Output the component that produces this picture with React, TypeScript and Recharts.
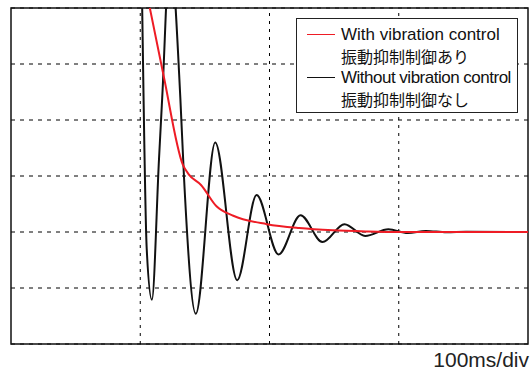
import React from "react";
import { CartesianGrid, Legend, Line, LineChart, ReferenceArea, ReferenceLine, XAxis, YAxis } from "recharts";

// time in ms, amplitude in divisions (6 divisions tall)
const withControl = [
  { t: 103, v: 6.5 },
  { t: 118, v: 4.8 },
  { t: 133, v: 3.2 },
  { t: 137.5, v: 3.03 },
  { t: 147, v: 2.84 },
  { t: 159, v: 2.46 },
  { t: 172, v: 2.29 },
  { t: 198, v: 2.14 },
  { t: 223, v: 2.07 },
  { t: 249, v: 2.03 },
  { t: 275, v: 2.01 },
  { t: 300, v: 2.0 },
  { t: 400, v: 2.0 },
];

const withoutControl = [
  { t: 98, v: 12 },
  { t: 101.5, v: 6 },
  { t: 105, v: 1.7 },
  { t: 109, v: 0.79 },
  { t: 114.5, v: 3.3 },
  { t: 117, v: 4.4 },
  { t: 123, v: 7.0 },
  { t: 131, v: 4.4 },
  { t: 133.8, v: 3.0 },
  { t: 143, v: 0.54 },
  { t: 158, v: 3.6 },
  { t: 175, v: 1.14 },
  { t: 190, v: 2.66 },
  { t: 207, v: 1.6 },
  { t: 224, v: 2.3 },
  { t: 241, v: 1.82 },
  { t: 258, v: 2.14 },
  { t: 274, v: 1.93 },
  { t: 292, v: 2.05 },
  { t: 307, v: 1.98 },
  { t: 321, v: 2.02 },
  { t: 337, v: 1.995 },
  { t: 352, v: 2.005 },
  { t: 400, v: 2.0 },
];

const xTicks = [100, 200, 300];
const yTicks = [1, 2, 3, 4, 5];

const RED = "#ee1c25";
const INK = "#111";

const legendItems = [
  { color: RED, en: "With vibration control", ja: "振動抑制制御あり", spacing: 0 },
  { color: INK, en: "Without vibration control", ja: "振動抑制制御なし", spacing: -0.5 },
];

function LegendBox() {
  return (
    <div
      style={{
        border: "1px solid #222",
        background: "#fff",
        boxSizing: "border-box",
        width: 222,
        height: 95,
        padding: "5px 0 0 10px",
        fontFamily: '"Liberation Sans", Arial, sans-serif',
        color: "#111",
        lineHeight: "21.5px",
        whiteSpace: "nowrap",
      }}
    >
      {legendItems.map((it) => (
        <div key={it.en}>
          <div style={{ display: "flex", alignItems: "center", fontSize: 17, letterSpacing: it.spacing }}>
            <span
              style={{ display: "inline-block", width: 28, height: 0, borderTop: `1.5px solid ${it.color}`, marginRight: 6, flex: "none" }}
            />
            {it.en}
          </div>
          <div style={{ paddingLeft: 34, fontSize: 16, fontFamily: '"Noto Sans CJK JP", sans-serif' }}>{it.ja}</div>
        </div>
      ))}
    </div>
  );
}

export default function App() {
  return (
    <div style={{ position: "absolute", left: 0, top: 0, background: "#fff" }}>
      <LineChart
        width={532}
        height={372}
        margin={{ top: 8, right: 4, bottom: 0, left: 11 }}
        style={{ fontFamily: '"Liberation Sans", Arial, sans-serif' }}
      >
        <XAxis
          type="number"
          dataKey="t"
          domain={[0, 400]}
          ticks={xTicks}
          tick={false}
          axisLine={false}
          tickLine={false}
          height={28}
          allowDataOverflow
          label={{ value: "100ms/div", position: "insideBottomRight", offset: 0, dy: -5, dx: 1, fill: "#222", fontSize: 21 }}
        />
        <YAxis type="number" dataKey="v" domain={[0, 6]} ticks={yTicks} hide allowDataOverflow />
        <CartesianGrid vertical={false} stroke="#000" strokeDasharray="4 5" />
        {xTicks.map((t) => (
          <ReferenceLine key={t} x={t} stroke="#000" strokeDasharray="3 5" />
        ))}
        <Legend
          layout="horizontal"
          verticalAlign="middle"
          align="center"
          content={() => <LegendBox />}
          wrapperStyle={{ left: 296, top: 18, width: 222, height: 95 }}
        />
        <Line
          data={withoutControl}
          dataKey="v"
          type="monotone"
          stroke={INK}
          strokeWidth={2}
          dot={false}
          isAnimationActive={false}
        />
        <Line
          data={withControl}
          dataKey="v"
          type="monotone"
          stroke={RED}
          strokeWidth={2}
          dot={false}
          isAnimationActive={false}
        />
        <ReferenceArea x1={0} x2={400} y1={0} y2={6} fill="none" stroke="#111" strokeWidth={1.5} ifOverflow="visible" />
      </LineChart>
    </div>
  );
}
